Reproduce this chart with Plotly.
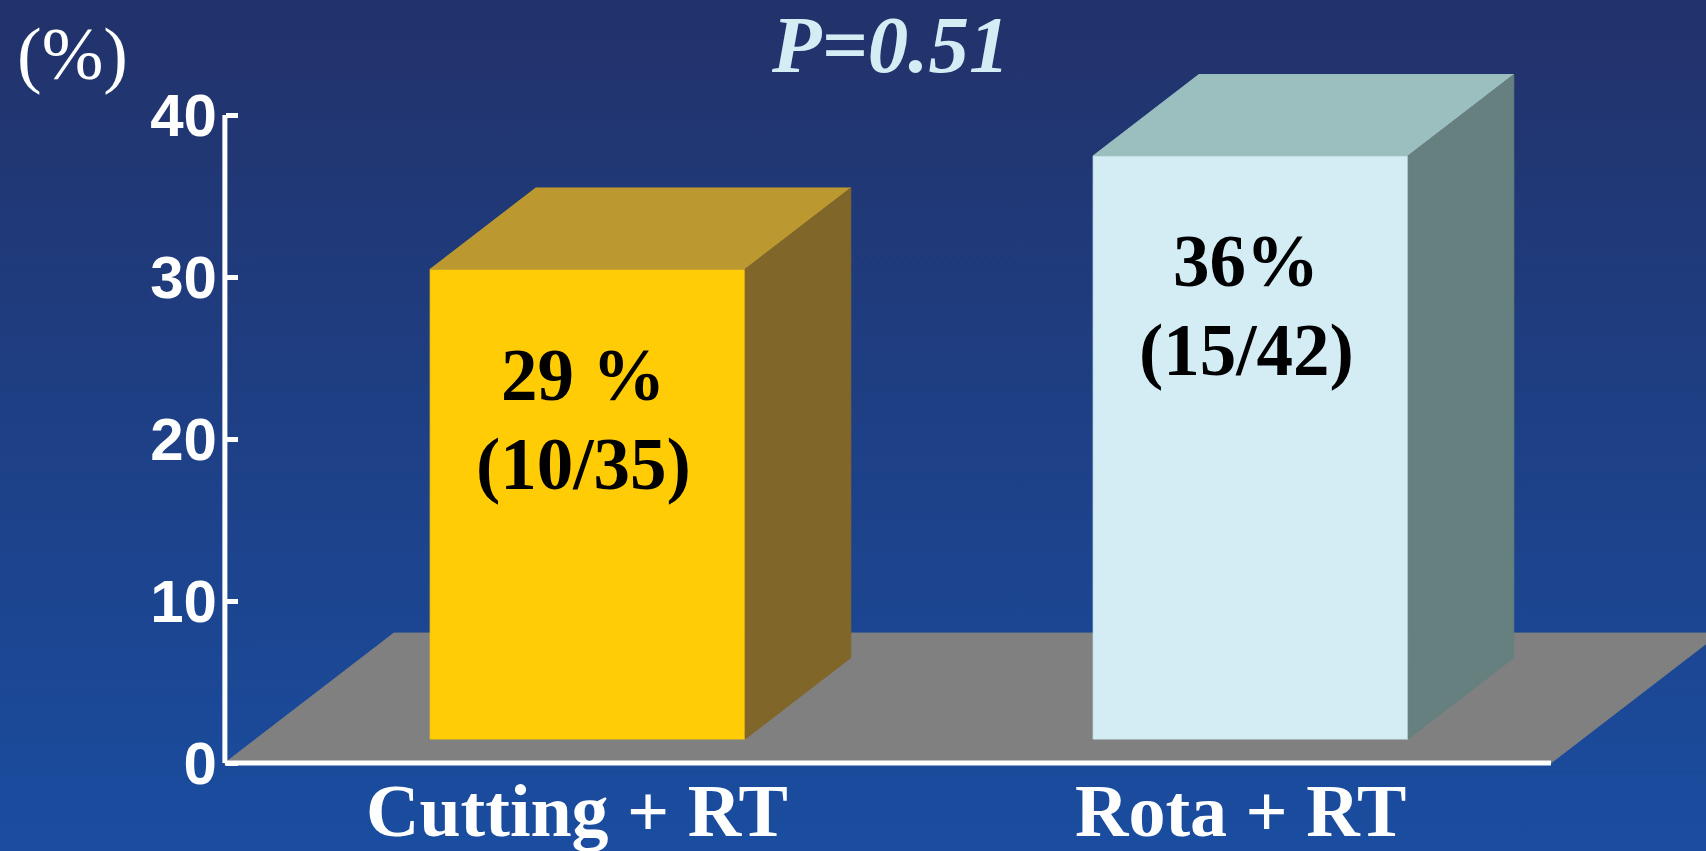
import plotly.graph_objects as go

# ---- data ----
categories = ["Cutting + RT", "Rota + RT"]
rates = [29, 36]
pct_labels = ["29 %", "36%"]
fraction_labels = ["(10/35)", "(15/42)"]
y_ticks = [0, 10, 20, 30, 40]
y_tick_text = ["0", "10", "20", "30", "40"]
p_value_text = "P=0.51"
y_unit_text = "(%)"

# ---- styling ----
front_colors = ["#FFCC05", "#D4ECF4"]
top_colors = ["#BC9930", "#9BBFBF"]
side_colors = ["#81662A", "#667F7F"]
FLOOR_COLOR = "#808080"
BG_TOP = "#22326A"
BG_BOTTOM = "#1A4DA0"
TITLE_COLOR = "#D4ECF4"
SERIF = "Liberation Serif, Times New Roman, serif"
SANS = "Liberation Sans, Arial, sans-serif"

W, H = 1706, 851
# oblique projection: one unit of depth moves a point by (DX, DY) in axis units
DX = 0.2549
DY = 8.02
BAR_WIDTH = 0.475
BAR_Z = (0.185, 0.81)
FLOOR_X = (-0.5, 1.5)
X_RANGE = [-0.8392, 1.7339]
Y_RANGE = [-5.432, 47.099]
TEXT_DROP = 6.54
LINE_GAP = 5.5
TEXT_SHIFT = -0.007
LABEL_SHIFT = -0.016


def proj(x, y, z):
    return x + z * DX, y + z * DY


def face(points, color):
    pts = [proj(*p) for p in points]
    xs = [p[0] for p in pts] + [pts[0][0]]
    ys = [p[1] for p in pts] + [pts[0][1]]
    return go.Scatter(x=xs, y=ys, mode="lines", fill="toself", fillcolor=color,
                      line=dict(width=1, color=color), hoverinfo="skip",
                      showlegend=False)


fig = go.Figure()

# background gradient
fig.add_trace(go.Scatter(
    x=[X_RANGE[0], X_RANGE[1], X_RANGE[1], X_RANGE[0], X_RANGE[0]],
    y=[Y_RANGE[0], Y_RANGE[0], Y_RANGE[1], Y_RANGE[1], Y_RANGE[0]],
    mode="lines", fill="toself", line=dict(width=0),
    fillgradient=dict(type="vertical", colorscale=[[0, BG_BOTTOM], [1, BG_TOP]],
                      start=Y_RANGE[0], stop=Y_RANGE[1]),
    hoverinfo="skip", showlegend=False))

# floor
fx0, fx1 = FLOOR_X
fig.add_trace(face([(fx0, 0, 0), (fx1, 0, 0), (fx1, 0, 1), (fx0, 0, 1)], FLOOR_COLOR))

# bars (front, top, right side)
z0, z1 = BAR_Z
for i, v in enumerate(rates):
    xl, xr = i - BAR_WIDTH / 2, i + BAR_WIDTH / 2
    fig.add_trace(face([(xl, 0, z0), (xr, 0, z0), (xr, v, z0), (xl, v, z0)], front_colors[i]))
    fig.add_trace(face([(xl, v, z0), (xr, v, z0), (xr, v, z1), (xl, v, z1)], top_colors[i]))
    fig.add_trace(face([(xr, 0, z0), (xr, 0, z1), (xr, v, z1), (xr, v, z0)], side_colors[i]))

annotations = []
for i, v in enumerate(rates):
    cx, top_y = proj(i, v, z0)
    annotations.append(dict(x=cx + TEXT_SHIFT, y=top_y - TEXT_DROP,
                            text=f"<b>{pct_labels[i]}</b>",
                            showarrow=False, xanchor="center", yanchor="middle",
                            font=dict(family=SERIF, size=73, color="black")))
    annotations.append(dict(x=cx + TEXT_SHIFT, y=top_y - TEXT_DROP - LINE_GAP,
                            text=f"<b>{fraction_labels[i]}</b>",
                            showarrow=False, xanchor="center", yanchor="middle",
                            font=dict(family=SERIF, size=73, color="black")))
    lx, _ = proj(i, 0, z0)
    annotations.append(dict(x=lx + LABEL_SHIFT, y=-2.96, text=f"<b>{categories[i]}</b>",
                            showarrow=False, xanchor="center", yanchor="middle",
                            font=dict(family=SERIF, size=74, color="white")))

annotations.append(dict(xref="paper", yref="paper", x=890 / W, y=1 - 45.5 / H,
                        text=f"<b><i>{p_value_text}</i></b>",
                        showarrow=False, xanchor="center", yanchor="middle",
                        font=dict(family=SERIF, size=81, color=TITLE_COLOR)))
annotations.append(dict(xref="paper", yref="paper", x=72 / W, y=1 - 53.5 / H,
                        text=y_unit_text, showarrow=False, xanchor="center",
                        yanchor="middle",
                        font=dict(family=SERIF, size=74, color="white")))

axis_pos = (FLOOR_X[0] - X_RANGE[0]) / (X_RANGE[1] - X_RANGE[0])

fig.update_layout(
    width=W, height=H, autosize=False,
    margin=dict(l=0, r=0, t=0, b=0, pad=0),
    paper_bgcolor=BG_TOP, plot_bgcolor=BG_TOP,
    showlegend=False, hovermode=False,
    xaxis=dict(range=X_RANGE, visible=False, fixedrange=True),
    yaxis=dict(range=Y_RANGE, anchor="free", position=axis_pos,
               showgrid=False, zeroline=False, showline=False,
               tickvals=y_ticks, ticktext=y_tick_text,
               ticks="inside", ticklen=12, tickwidth=5, tickcolor="white",
               ticklabelstandoff=8,
               tickfont=dict(family=SANS, size=60, color="white", weight="bold"),
               fixedrange=True),
    annotations=annotations,
    shapes=[
        dict(type="line", xref="x", yref="y", x0=FLOOR_X[0], y0=0, x1=FLOOR_X[0], y1=y_ticks[-1],
             line=dict(color="white", width=5), layer="above"),
        dict(type="line", xref="x", yref="y", x0=FLOOR_X[0], y0=0, x1=FLOOR_X[1], y1=0,
             line=dict(color="white", width=5), layer="above"),
    ],
)

fig.write_html("out.html", config={"displayModeBar": False})
